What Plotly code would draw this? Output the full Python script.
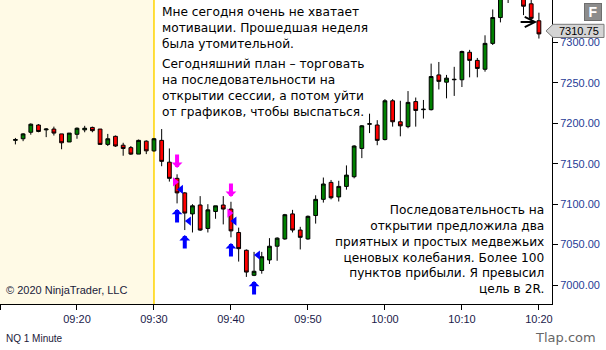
import plotly.graph_objects as go

DAY = "2020-01-01 "

times = ["09:12","09:13","09:14","09:15","09:16","09:17","09:18","09:19","09:20","09:21",
         "09:22","09:23","09:24","09:25","09:26","09:27","09:28","09:29","09:30","09:31",
         "09:32","09:33","09:34","09:35","09:36","09:37","09:38","09:39","09:40","09:41",
         "09:42","09:43","09:44","09:45","09:46","09:47","09:48","09:49","09:50","09:51",
         "09:52","09:53","09:54","09:55","09:56","09:57","09:58","09:59","10:00","10:01",
         "10:02","10:03","10:04","10:05","10:06","10:07","10:08","10:09","10:10","10:11",
         "10:12","10:13","10:14","10:15","10:16","10:17","10:18","10:19","10:20"]
opens  = [7179,7181,7189,7198,7192,7193,7187,7177,7186.5,7192,
          7195,7193,7174,7184,7173,7170,7162,7178,7166,7179,
          7152,7132,7114,7088,7099,7070,7091,7099,7094,7065,
          7043,7012,7018,7031,7048,7057,7088,7068,7057,7086,
          7106,7127,7109,7122,7134,7169,7199,7198,7180,7228,
          7202,7196,7227,7217,7217,7260,7251,7254,7254,7288,
          7278,7267,7299,7331,7365,7362,7368,7348,7327]
highs  = [7182,7188,7200,7199,7194,7196,7187,7188,7195,7197,
          7196,7193,7187,7185,7176,7172,7180,7179,7182,7193,
          7169,7137,7115,7100,7110,7100,7098,7110,7103,7071,
          7044,7041,7041,7058,7059,7088,7093,7072,7086,7111,
          7133,7130,7129,7148,7173,7198,7212,7204,7230,7230,
          7228,7240,7232,7229,7274,7276,7260,7270,7290,7291,
          7281,7309,7341,7360,7372,7376,7372,7354,7337]
lows   = [7174,7178,7186,7189,7183,7185,7168,7177,7181,7189,
          7189,7174,7172,7171,7160,7161,7162,7162,7165,7147,
          7128,7101,7068,7065,7067,7065,7082,7075,7059,7029,
          7010,7011,7014,7026,7030,7056,7065,7044,7056,7076,
          7102,7106,7097,7118,7132,7157,7188,7173,7179,7196,
          7184,7194,7196,7206,7216,7242,7231,7234,7245,7257,
          7257,7264,7297,7325,7349,7356,7334,7328,7305]
closes = [7180,7187,7199,7190,7193,7188,7176,7188,7194,7194,
          7191,7174,7181,7172,7169,7162,7179,7166,7181,7153,
          7132,7114,7089,7098,7068,7093,7098,7094,7067,7045,
          7016,7017,7035,7048,7058,7087,7068,7059,7085,7106,
          7125,7108,7122,7136,7172,7197,7199.5,7179,7228,7202,
          7197,7226,7216,7217.5,7258,7252,7256,7254.5,7289,7278,
          7268,7299,7331,7358,7362,7368,7345,7330,7310.75]

# trade signal markers
sell_arrow_times = ["09:33", "09:40"]
sell_arrow_prices = [7144.8, 7108.9]
buy_arrow_times = ["09:33", "09:34", "09:40", "09:43"]
buy_arrow_prices = [7094.1, 7061.9, 7052.0, 7005.0]
entry_tri_times = ["09:32:44", "09:39:48"]
entry_tri_prices = [7127.5, 7089.1]
exit_tri_times = ["09:33:30", "09:34:32", "09:40:27", "09:43:30"]
exit_tri_prices = [7118.2, 7079.2, 7079.2, 7037.1]

last_price = 7310.75
y_ticks = [7000, 7050, 7100, 7150, 7200, 7250, 7300]
y_range = [6976.5, 7352.7]
x_range = ["09:10", "10:21:42"]
session_open = "09:30"

top_text_1 = "Мне сегодня очень не хватает<br>мотивации. Прошедшая неделя<br>была утомительной."
top_text_2 = ("Сегодняшний план – торговать<br>на последовательности на<br>"
              "открытии сессии, а потом уйти<br>от графиков, чтобы выспаться.")
bottom_text = ("Последовательность на<br>открытии предложила два<br>приятных и простых медвежьих<br>"
               "ценовых колебания. Более 100<br>пунктов прибыли. Я превысил<br>цель в 2R.")

T = lambda t: DAY + t

fig = go.Figure()

fig.add_trace(go.Candlestick(
    x=[T(t) for t in times], open=opens, high=highs, low=lows, close=closes,
    increasing=dict(fillcolor="#008000", line=dict(color="black", width=1)),
    decreasing=dict(fillcolor="#FF0000", line=dict(color="black", width=1)),
    whiskerwidth=0, hoverinfo="skip", showlegend=False,
))

fig.add_trace(go.Scatter(
    x=[T(t) for t in entry_tri_times], y=entry_tri_prices, mode="markers",
    marker=dict(symbol="triangle-right", size=8, color="#FF00FF"),
    hoverinfo="skip", showlegend=False))
fig.add_trace(go.Scatter(
    x=[T(t) for t in exit_tri_times], y=exit_tri_prices, mode="markers",
    marker=dict(symbol="triangle-left", size=8, color="#0000FF"),
    hoverinfo="skip", showlegend=False))

annotations = []
for t, p in zip(sell_arrow_times, sell_arrow_prices):
    annotations.append(dict(x=T(t), y=p, xref="x", yref="y", text="", showarrow=True,
                            ax=0, ay=-15, arrowhead=1, arrowwidth=4, arrowsize=0.45,
                            arrowcolor="#FF00FF"))
for t, p in zip(buy_arrow_times, buy_arrow_prices):
    annotations.append(dict(x=T(t), y=p, xref="x", yref="y", text="", showarrow=True,
                            ax=0, ay=15, arrowhead=1, arrowwidth=4, arrowsize=0.45,
                            arrowcolor="#0000FF"))

# black pointer arrow to last bar
annotations.append(dict(x=T("10:19:46"), y=7325.5, xref="x", yref="y", text="", showarrow=True,
                        ax=-18, ay=0, arrowhead=5, arrowwidth=2, arrowsize=1, arrowcolor="black"))

TXT = dict(family="DejaVu Sans", size=12.2, color="black")
annotations += [
    dict(x=160/552, y=1-28/304, xref="paper", yref="paper", xanchor="left", yanchor="middle",
         align="left", text=top_text_1, showarrow=False, font=TXT, bgcolor="white"),
    dict(x=160/552, y=1-88/304, xref="paper", yref="paper", xanchor="left", yanchor="middle",
         align="left", text=top_text_2, showarrow=False, font=TXT, bgcolor="white"),
    dict(x=546/552, y=1-249.5/304, xref="paper", yref="paper", xanchor="right", yanchor="middle",
         align="right", text=bottom_text, showarrow=False, font=TXT, bgcolor="white"),
    dict(x=4/552, y=1-290/304, xref="paper", yref="paper", xanchor="left", yanchor="middle",
         text="© 2020 NinjaTrader, LLC", showarrow=False,
         font=dict(family="Liberation Sans, Arial", size=11, color="#1a1a3a")),
    dict(x=4/552, y=-34/304, xref="paper", yref="paper", xanchor="left", yanchor="middle",
         text="NQ 1 Minute", showarrow=False,
         font=dict(family="Liberation Sans, Arial", size=10, color="#1a1a3a")),
    dict(x=598/552, y=-33/304, xref="paper", yref="paper", xanchor="right", yanchor="middle",
         text="Tlap.com", showarrow=False,
         font=dict(family="DejaVu Sans", size=13, color="#666666")),
    dict(x=593/552, y=1-12/304, xref="paper", yref="paper", xanchor="center", yanchor="middle",
         text="<b>F</b>", showarrow=False, width=14, height=14,
         font=dict(family="Liberation Sans, Arial", size=14, color="white"),
         bgcolor="#8c8c8c", bordercolor="#6e6e6e", borderwidth=1),
]

ppx = 50 / 40.4  # price per pixel
label_c = last_price + 3 * ppx
annotations.append(dict(x=579/552, y=label_c, xref="paper", yref="y", xanchor="center", yanchor="middle",
                        text=f"{last_price:.2f}", showarrow=False,
                        font=dict(family="Liberation Sans, Arial", size=11, color="black")))
shapes = [
    dict(type="rect", xref="x", yref="paper", x0=T(x_range[0]), x1=T(session_open), y0=0, y1=1,
         fillcolor="#FFFAE6", line=dict(width=0), layer="below"),
    dict(type="line", xref="x", yref="paper", x0=T(session_open), x1=T(session_open), y0=0, y1=1,
         line=dict(color="#FFD400", width=1.5), layer="below"),
    dict(type="path", xref="paper", yref="y",
         path=(f"M {546/552},{label_c} L {553/552},{label_c + 6.6*ppx} "
               f"L {604/552},{label_c + 6.6*ppx} L {604/552},{label_c - 6.6*ppx} "
               f"L {553/552},{label_c - 6.6*ppx} Z"),
         fillcolor="#D4D4D4", line=dict(color="#7a7a7a", width=1)),
]

fig.update_layout(
    width=606, height=350,
    margin=dict(l=0, r=54, t=0, b=46),
    paper_bgcolor="white", plot_bgcolor="white",
    annotations=annotations, shapes=shapes,
    showlegend=False,
    xaxis=dict(type="date", range=[T(x_range[0]), T(x_range[1])], rangeslider=dict(visible=False),
               tickformat="%H:%M", dtick=600000, tick0=T("09:20"), ticks="outside", ticklen=5,
               tickcolor="black", showline=True, linecolor="black", linewidth=1, showgrid=False,
               zeroline=False, tickfont=dict(family="Liberation Sans, Arial", size=11, color="#1a1a4a")),
    yaxis=dict(side="right", range=y_range, tickvals=y_ticks,
               ticktext=[f"{v:.2f}" for v in y_ticks], ticks="outside", ticklen=5,
               tickcolor="black", showline=True, linecolor="black", linewidth=1, showgrid=False,
               zeroline=False, tickfont=dict(family="Liberation Sans, Arial", size=11, color="#1f3c96")),
)

fig.write_html("out.html")
